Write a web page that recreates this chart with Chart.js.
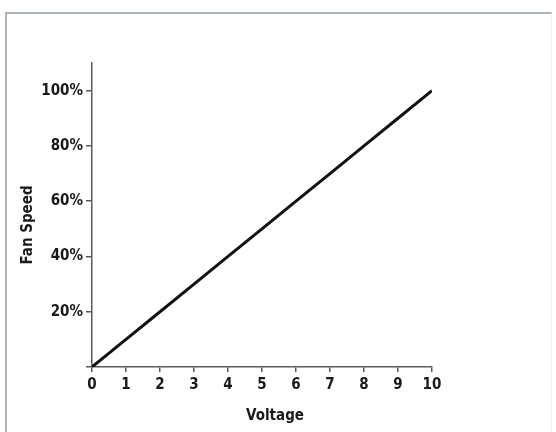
<!DOCTYPE html>
<html>
<head>
<meta charset="utf-8">
<script src="https://cdn.jsdelivr.net/npm/chart.js@4/dist/chart.umd.min.js"></script>
<style>
  html, body { margin: 0; padding: 0; background: #fff; }
  #wrap { position: relative; width: 556px; height: 432px; }
  #frame { position: absolute; left: 5px; top: 12px; width: 547px; height: 420px;
           border-top: 2px solid #aab2ba; border-left: 2px solid #aab2ba;
           border-right: 1px solid #edeff1; box-sizing: border-box; }
  canvas { position: absolute; left: 0; top: 0; }
</style>
</head>
<body>
<div id="wrap">
  <div id="frame"></div>
  <canvas id="c" width="556" height="432"></canvas>
</div>
<script>
const voltage = [0, 1, 2, 3, 4, 5, 6, 7, 8, 9, 10];
const fanSpeed = [0, 10, 20, 30, 40, 50, 60, 70, 80, 90, 100];
const yTickValues = [0, 20, 40, 60, 80, 100];
const xTitle = 'Voltage';
const yTitle = 'Fan Speed';

const FONT = "'Liberation Sans Narrow', 'DejaVu Sans Condensed', 'Liberation Sans', sans-serif";
const AXIS = '#5a5a5a';

const axisTitles = {
  id: 'axisTitles',
  afterDraw(chart) {
    const ctx = chart.ctx, area = chart.chartArea;
    ctx.save();
    ctx.fillStyle = '#1a1a1a';
    ctx.font = "bold 15px " + FONT;
    ctx.textAlign = 'center';
    ctx.textBaseline = 'middle';
    ctx.fillText(xTitle, (area.left + area.right) / 2 + 13, 416);
    ctx.translate(28, (area.top + area.bottom) / 2 + 10);
    ctx.rotate(-Math.PI / 2);
    ctx.fillText(yTitle, 0, 0);
    ctx.restore();
  }
};

new Chart(document.getElementById('c'), {
  type: 'line',
  data: {
    datasets: [{
      data: voltage.map((v, i) => ({ x: v, y: fanSpeed[i] })),
      borderColor: '#111',
      borderWidth: 3,
      pointRadius: 0,
      tension: 0,
      fill: false
    }]
  },
  options: {
    responsive: false,
    animation: false,
    devicePixelRatio: 1,
    layout: { padding: { top: 63, right: 124, left: 0, bottom: 0 } },
    plugins: { legend: { display: false }, tooltip: { enabled: false } },
    scales: {
      x: {
        type: 'linear',
        min: 0, max: 10,
        afterFit(s) { s.height = 65; },
        ticks: { stepSize: 1, color: '#1a1a1a', padding: 4, font: { family: FONT, size: 15, weight: 'bold' } },
        grid: { display: true, drawOnChartArea: false, drawTicks: true, tickLength: 5, color: AXIS, lineWidth: 1.5 },
        border: { display: true, color: AXIS, width: 1.5 }
      },
      y: {
        type: 'linear',
        min: 0, max: 110,
        afterFit(s) { s.width = 92; },
        afterBuildTicks(s) { s.ticks = yTickValues.map(v => ({ value: v })); },
        ticks: {
          color: '#1a1a1a', padding: 3,
          font: { family: FONT, size: 15, weight: 'bold' },
          callback: v => v === 0 ? '' : v + '%'
        },
        grid: { display: true, drawOnChartArea: false, drawTicks: true, tickLength: 6, color: AXIS, lineWidth: 1.5 },
        border: { display: true, color: AXIS, width: 1.5 }
      }
    }
  },
  plugins: [axisTitles]
});
</script>
</body>
</html>
